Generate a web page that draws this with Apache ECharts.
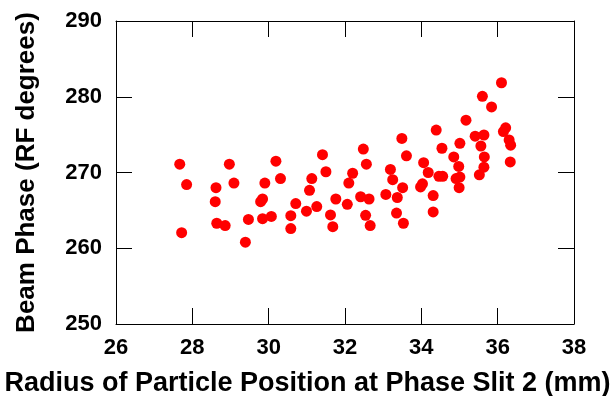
<!DOCTYPE html>
<html>

<head>
    <script src="https://cdn.jsdelivr.net/npm/echarts@6.0.0/dist/echarts.min.js"></script>
</head>

<body style="margin: 0;">
    <div id="echartsMain" style="width: 614px; height: 396px;"></div>
</body>

</html>

<script type="text/javascript">
    // radius (mm) and beam phase (RF degrees)
    let radius = [
        27.67, 27.85, 27.72, 28.62, 28.60, 28.64, 28.86, 28.97, 29.09, 29.39,
        29.47, 29.90, 29.84, 29.79, 29.84, 30.07, 30.19, 30.31, 30.58, 30.58,
        30.71, 30.99, 31.07, 31.13, 31.26, 31.41, 31.50, 31.62, 31.68, 31.76,
        32.06, 32.10, 32.20, 32.48, 32.56, 32.41, 32.63, 32.54, 32.66, 33.07,
        33.19, 33.25, 33.37, 33.51, 33.35, 33.53, 33.49, 33.61, 33.98, 34.03,
        34.06, 34.18, 34.31, 34.31, 34.39, 34.54, 34.46, 34.56, 34.85, 34.98,
        34.91, 35.01, 34.99, 35.01, 35.17, 35.41, 35.52, 35.56, 35.64, 35.60,
        35.65, 35.64, 35.84, 36.10, 36.21, 36.15, 36.30, 36.34, 36.33
    ]
    let phase = [
        271.1, 268.4, 262.05, 268.0, 266.15, 263.3, 263.0, 271.1, 268.6, 260.8,
        263.8, 268.6, 266.5, 266.15, 263.9, 264.2, 271.5, 269.2, 264.3, 262.6,
        265.9, 264.9, 267.65, 269.2, 265.5, 272.35, 270.1, 264.4, 262.85, 266.5,
        265.8, 268.6, 269.9, 273.1, 271.1, 266.8, 266.5, 264.35, 263.0, 267.1,
        270.4, 269.05, 266.7, 268.0, 264.65, 263.3, 274.5, 272.2, 268.1, 268.5,
        271.3, 270.0, 266.95, 264.8, 275.6, 273.2, 269.5, 269.5, 272.05, 270.8,
        269.2, 269.4, 268.0, 273.85, 276.9, 274.8, 269.7, 273.5, 274.95, 280.05,
        272.05, 270.7, 278.65, 281.85, 275.9, 275.4, 274.3, 273.6, 271.4
    ]

    let myChart = echarts.init(document.getElementById('echartsMain'));

    let points = radius.map((r, i) => [r, phase[i]])

    let font = 'Liberation Sans, Arial, sans-serif'
    let lineStyle = { color: '#000', width: 1 }
    let tick = { show: true, inside: true, length: 16, lineStyle: lineStyle }

    var option = {
        animation: false,
        grid: {
            left: 116,
            right: 40,
            top: 21,
            bottom: 72,
            outerBoundsMode: 'none'
        },
        xAxis: [{
            type: 'value',
            min: 26,
            max: 38,
            interval: 2,
            name: 'Radius of Particle Position at Phase Slit 2 (mm)',
            nameLocation: 'middle',
            nameGap: 36,
            nameMoveOverlap: false,
            nameTextStyle: {
                fontFamily: font, fontWeight: 'bold', fontSize: 27, color: '#000',
                padding: [0, 75, 0, 0]
            },
            axisLine: { lineStyle: lineStyle },
            axisTick: tick,
            splitLine: { show: false },
            axisLabel: {
                margin: 5,
                fontFamily: font, fontWeight: 'bold', fontSize: 22, color: '#000'
            }
        }, {
            type: 'value',
            position: 'top',
            min: 26,
            max: 38,
            interval: 2,
            axisLine: { lineStyle: lineStyle },
            axisTick: tick,
            splitLine: { show: false },
            axisLabel: { show: false }
        }],
        yAxis: [{
            type: 'value',
            min: 250,
            max: 290,
            interval: 10,
            name: 'Beam Phase (RF degrees)',
            nameLocation: 'middle',
            nameGap: 67,
            nameMoveOverlap: false,
            nameTextStyle: {
                fontFamily: font, fontWeight: 'bold', fontSize: 26, color: '#000'
            },
            axisLine: { show: true, lineStyle: lineStyle },
            axisTick: tick,
            splitLine: { show: false },
            axisLabel: {
                margin: 14,
                fontFamily: font, fontWeight: 'bold', fontSize: 22, color: '#000'
            }
        }, {
            type: 'value',
            position: 'right',
            min: 250,
            max: 290,
            interval: 10,
            axisLine: { show: true, lineStyle: lineStyle },
            axisTick: tick,
            splitLine: { show: false },
            axisLabel: { show: false }
        }],
        series: [{
            type: 'scatter',
            xAxisIndex: 0,
            yAxisIndex: 0,
            symbolSize: 11,
            itemStyle: { color: '#ff0000', opacity: 1 },
            data: points
        }]
    };
    myChart.setOption(option);
</script>
